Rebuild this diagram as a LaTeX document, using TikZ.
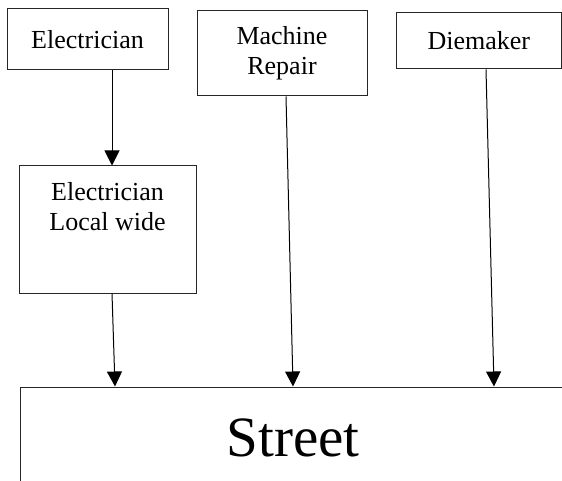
\documentclass[tikz,border=0pt]{standalone}
\usepackage{fontspec}
\setmainfont{Liberation Serif}
\usepackage{tikz}
\usetikzlibrary{positioning, arrows.meta}

\begin{document}
\begin{tikzpicture}[
    x=1pt, y=1pt,
    font=\fontsize{26}{30}\selectfont,
    >=Triangle,
    box/.style={
        rectangle,
        draw=black!85,
        line width=1pt,
        align=center,
        inner sep=0pt
    },
    arrow/.style={-{Triangle[length=15pt, width=15pt]}, line width=1pt}
]

\clip (0,0) rectangle (562,-481);

\node[box, minimum width=161pt, minimum height=61pt] (electrician) at (87.5,-39.5) {Electrician};
\node[box, minimum width=170pt, minimum height=85pt] (machine) at (282,-53.5) {Machine\\Repair};
\node[box, minimum width=165.5pt, minimum height=56pt] (diemaker) at (478.75,-41) {Diemaker};

\node[box, minimum width=177pt, minimum height=127pt,
      label={[anchor=north, align=center, inner sep=0pt, yshift=-17pt]north:{Electrician\\Local wide}}]
      (localwide) at (107.5,-229.5) {};

\node[box, minimum width=546pt, minimum height=102pt,
      font=\fontsize{57}{62}\selectfont] (street) at (293,-438) {Street};

\draw[arrow] ([xshift=24.5pt]electrician.south) -- ([xshift=4.5pt]localwide.north);
\draw[arrow] ([xshift=4.5pt]localwide.south) -- ([xshift=-178pt]street.north);
\draw[arrow] ([xshift=4pt]machine.south) -- (street.north);
\draw[arrow] ([xshift=7.25pt]diemaker.south) -- ([xshift=201pt]street.north);

\end{tikzpicture}
\end{document}
